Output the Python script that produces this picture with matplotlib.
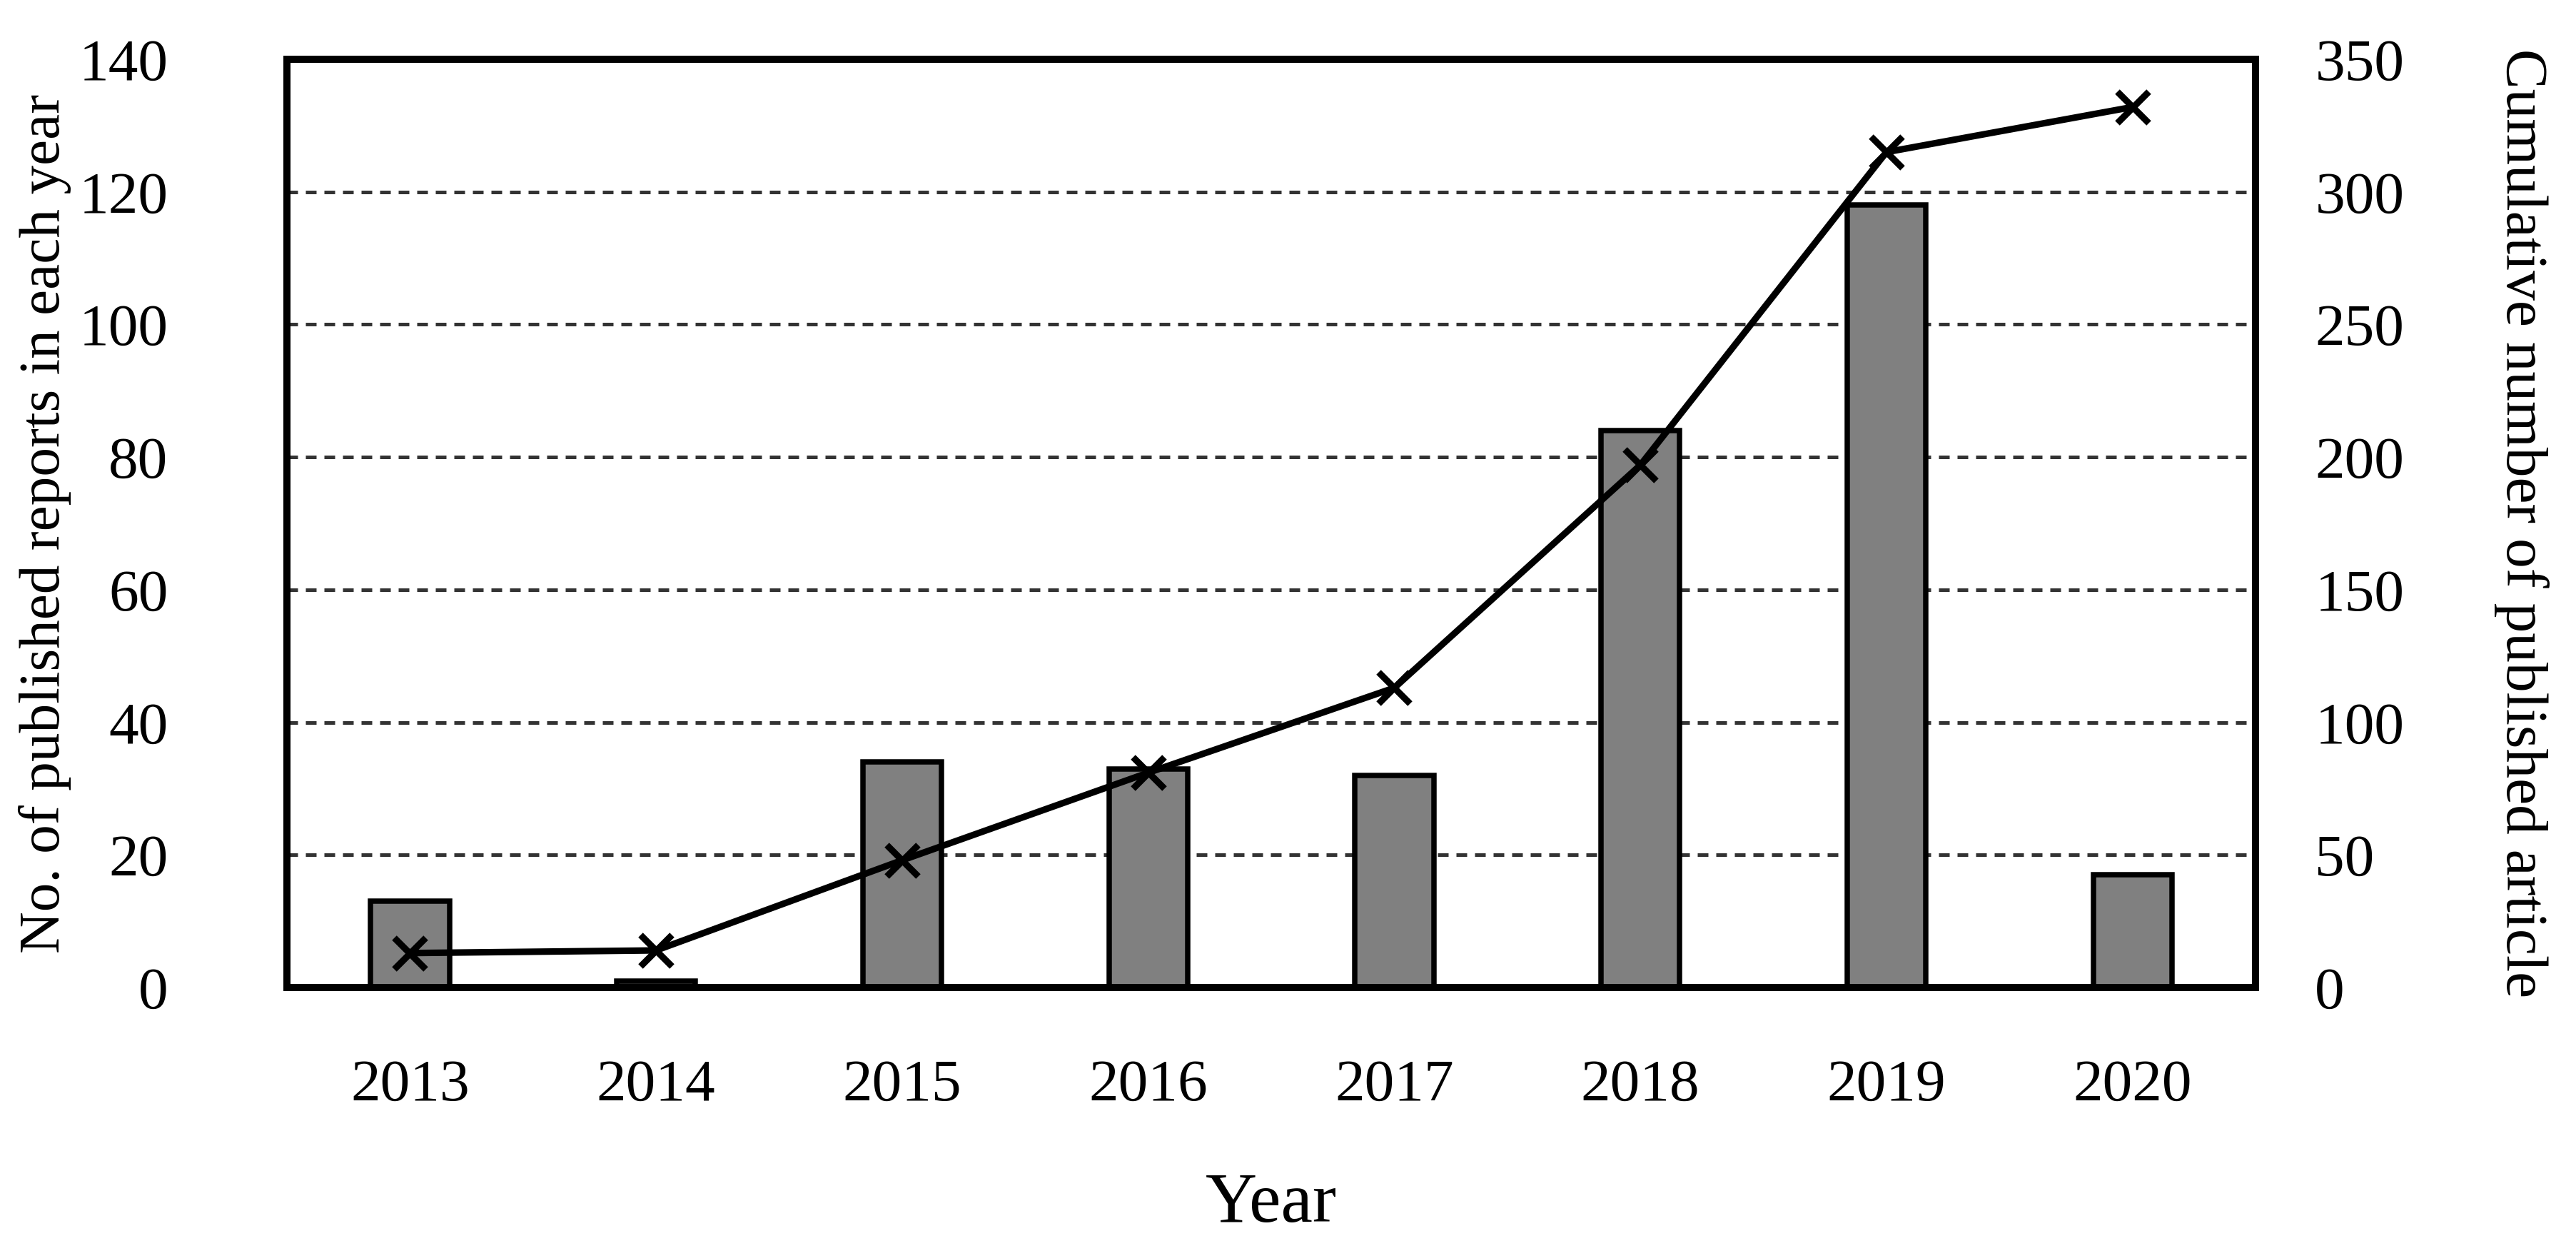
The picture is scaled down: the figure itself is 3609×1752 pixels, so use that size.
import matplotlib
matplotlib.use("Agg")
import matplotlib.pyplot as plt
import numpy as np

# Data
years = ["2013", "2014", "2015", "2016", "2017", "2018", "2019", "2020"]
reports_per_year = [13, 1, 34, 33, 32, 84, 118, 17]
cumulative_articles = [13, 14, 48, 81, 113, 197, 315, 332]

left_ticks = [0, 20, 40, 60, 80, 100, 120, 140]
right_ticks = [0, 50, 100, 150, 200, 250, 300, 350]

plt.rcParams['font.family'] = ['Liberation Serif', 'DejaVu Serif']

fig = plt.figure(figsize=(3609 / 300, 1752 / 300), dpi=300)
ax = fig.add_axes([0.1114, 0.2106, 0.7642, 0.742])

x = np.arange(len(years))

# Bars: yearly count
ax.bar(x, reports_per_year, width=0.32, color='#808080',
       edgecolor='black', linewidth=1.8, zorder=2)

ax.set_xlim(-0.5, len(years) - 0.5)
ax.set_ylim(0, 140)
ax.set_yticks(left_ticks)
ax.set_xticks(x)
ax.set_xticklabels(years)

# dashed horizontal gridlines (only inside)
for t in left_ticks[1:-1]:
    ax.axhline(t, color='#333333', linestyle=(0, (3, 2.2)), linewidth=1.2, zorder=1)

for s in ax.spines.values():
    s.set_linewidth(2.4)

ax.tick_params(axis='y', length=0, pad=40, labelsize=20)
ax.tick_params(axis='x', length=0, pad=24, labelsize=20)
ax.set_ylabel('No. of published reports in each year', fontsize=19.5, va='center')
ax.yaxis.set_label_coords(-0.123, 0.5)
ax.set_xlabel('Year', fontsize=24, va='center')
ax.xaxis.set_label_coords(0.5, -0.234)

# Line: cumulative count on the right axis
ax2 = ax.twinx()
ax2.plot(x, cumulative_articles, color='black', linewidth=2.2,
         marker='x', markersize=10.5, markeredgewidth=2.2, zorder=3)
ax2.set_ylim(0, 350)
ax2.set_yticks(right_ticks)
ax2.tick_params(axis='y', length=0, pad=20, labelsize=20)
ax2.set_ylabel('Cumulative number of published article', fontsize=20,
               rotation=270, va='center')
ax2.yaxis.set_label_coords(1.135, 0.5)
for s in ax2.spines.values():
    s.set_linewidth(2.4)

fig.savefig('out.png', dpi=300)
